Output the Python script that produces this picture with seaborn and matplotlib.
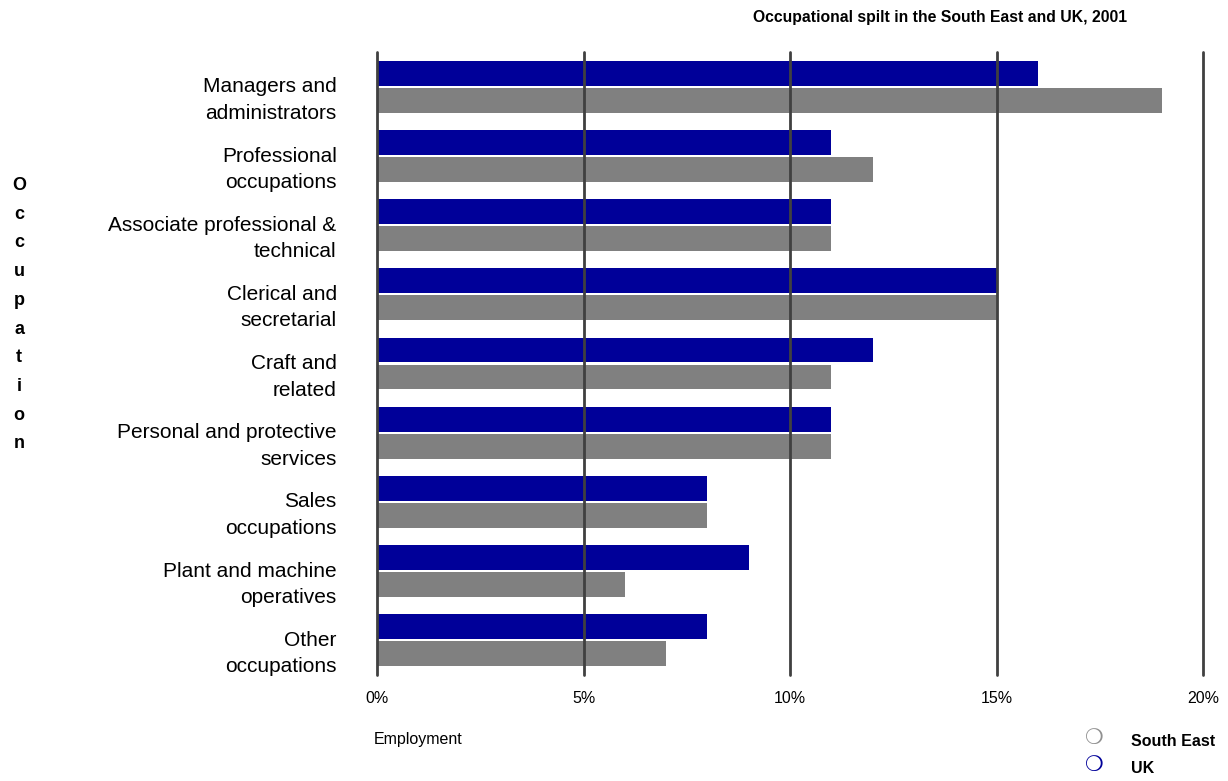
import matplotlib
matplotlib.use("Agg")
import matplotlib.pyplot as plt
import matplotlib.transforms as mtransforms
import seaborn as sns
import pandas as pd

occupations = [
    "Managers and\nadministrators",
    "Professional\noccupations",
    "Associate professional &\ntechnical",
    "Clerical and\nsecretarial",
    "Craft and\nrelated",
    "Personal and protective\nservices",
    "Sales\noccupations",
    "Plant and machine\noperatives",
    "Other\noccupations",
]
uk = [16, 11, 11, 15, 12, 11, 8, 9, 8]
south_east = [19, 12, 11, 15, 11, 11, 8, 6, 7]
x_ticks = [0, 5, 10, 15, 20]
x_tick_labels = ["0%", "5%", "10%", "15%", "20%"]

df = pd.DataFrame({
    "Occupation": occupations * 2,
    "Share": uk + south_east,
    "Area": ["UK"] * len(uk) + ["South East"] * len(south_east),
})

sns.set_theme(style="white")
plt.rcParams["font.family"] = ["Liberation Sans", "DejaVu Sans"]
plt.rcParams["text.color"] = "black"

fig = plt.figure(figsize=(12.28, 7.81), dpi=100)
ax = fig.add_axes([0.307, 0.136, 0.6727, 0.797])

sns.barplot(
    data=df, y="Occupation", x="Share", hue="Area",
    hue_order=["UK", "South East"],
    palette={"UK": "#000099", "South East": "#808080"},
    order=occupations, orient="h", width=0.78, gap=0.08,
    saturation=1, linewidth=0, legend=False, ax=ax,
)

ax.set_xlim(0, 20)
ax.set_ylim(len(occupations) - 0.5, -0.5)
for x in x_ticks:
    ax.axvline(x, color="#404040", lw=2, zorder=5, clip_on=False)
for s in ax.spines.values():
    s.set_visible(False)

ax.set_xticks(x_ticks)
ax.set_xticklabels(x_tick_labels, fontsize=11.5, color="black")
ax.tick_params(axis="x", length=0, pad=12)
ax.tick_params(axis="y", length=0, pad=29)
shift_down = mtransforms.ScaledTranslation(0, -0.075, fig.dpi_scale_trans)
for lab in ax.get_yticklabels():
    lab.set_fontsize(15)
    lab.set_color("black")
    lab.set_linespacing(1.5)
    lab.set_multialignment("right")
    lab.set_transform(lab.get_transform() + shift_down)
ax.set_xlabel("")
ax.set_ylabel("")

fig.text(0.7655, 0.978, "Occupational spilt in the South East and UK, 2001",
         ha="center", va="center", fontsize=11.3, fontweight="bold")
fig.text(0.0155, 0.597, "\n".join("Occupation"), ha="center", va="center",
         fontsize=13, fontweight="bold", linespacing=1.9)
fig.text(0.3045, 0.053, "Employment", ha="left", va="center", fontsize=11.5)

# legend: ring symbols with bold labels
fig.text(0.891, 0.055, "\u274D", color="#909090", fontsize=15, ha="center",
         va="center", family=["DejaVu Sans"])
fig.text(0.921, 0.051, "South East", fontsize=11.5, fontweight="bold", va="center")
fig.text(0.891, 0.020, "\u274D", color="#000099", fontsize=15, ha="center",
         va="center", family=["DejaVu Sans"], fontweight="bold")
fig.text(0.921, 0.016, "UK", fontsize=11.5, fontweight="bold", va="center")

fig.savefig("out.png", dpi=100)
